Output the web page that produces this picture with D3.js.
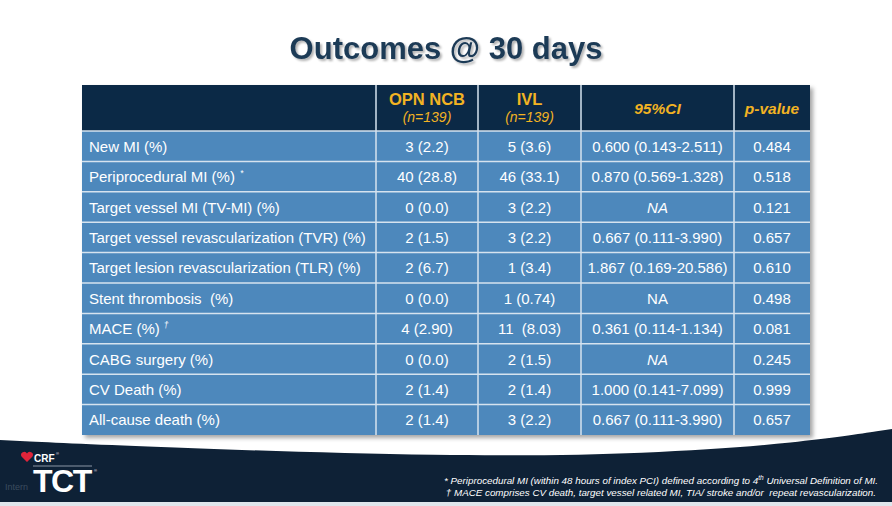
<!DOCTYPE html>
<html>
<head>
<meta charset="utf-8">
<script src="https://cdn.jsdelivr.net/npm/d3@7"></script>
<style>
  html, body { margin: 0; padding: 0; background: #ffffff; }
  svg { display: block; font-family: "Liberation Sans", Arial, sans-serif; }
</style>
</head>
<body>
<div id="chart"></div>
<script>
// Table content
const outcomes = [
    'New MI (%)',
    'Periprocedural MI (%)',
    'Target vessel MI (TV-MI) (%)',
    'Target vessel revascularization (TVR) (%)',
    'Target lesion revascularization (TLR) (%)',
    'Stent thrombosis  (%)',
    'MACE (%)',
    'CABG surgery (%)',
    'CV Death (%)',
    'All-cause death (%)'
];
const outcomeMarks = ['', '*', '', '', '', '', '\u2020', '', '', ''];
const opnNcb = ['3 (2.2)', '40 (28.8)', '0 (0.0)', '2 (1.5)', '2 (6.7)', '0 (0.0)', '4 (2.90)', '0 (0.0)', '2 (1.4)', '2 (1.4)'];
const ivl = ['5 (3.6)', '46 (33.1)', '3 (2.2)', '3 (2.2)', '1 (3.4)', '1 (0.74)', '11  (8.03)', '2 (1.5)', '2 (1.4)', '3 (2.2)'];
const ci95 = ['0.600 (0.143-2.511)', '0.870 (0.569-1.328)', 'NA', '0.667 (0.111-3.990)', '1.867 (0.169-20.586)', 'NA', '0.361 (0.114-1.134)', 'NA', '1.000 (0.141-7.099)', '0.667 (0.111-3.990)'];
const pValues = ['0.484', '0.518', '0.121', '0.657', '0.610', '0.498', '0.081', '0.245', '0.999', '0.657'];

const headers = [
    { key: 'outcome', title: '', sub: '' },
    { key: 'opn', title: 'OPN NCB', sub: '(n=139)' },
    { key: 'ivl', title: 'IVL', sub: '(n=139)' },
    { key: 'ci', title: '95%CI', sub: '' },
    { key: 'p', title: 'p-value', sub: '' }
];
const footnotes = [
    '* Periprocedural MI (within 48 hours of index PCI) defined according to 4',
    '\u2020 MACE comprises CV death, target vessel related MI, TIA/ stroke and/or  repeat revascularization.'
];

const W = 892, H = 506;
const table = { left: 82, right: 810, top: 85, headerBottom: 131, bottom: 435 };
const colWidths = [294, 102, 103, 153, 76];

const svg = d3.select('#chart').append('svg')
    .attr('width', W)
    .attr('height', H);

const defs = svg.append('defs');
const shadow = defs.append('filter').attr('id', 'shadow')
    .attr('x', '-5%').attr('y', '-5%').attr('width', '110%').attr('height', '115%');
shadow.append('feDropShadow')
    .attr('dx', 3).attr('dy', 3).attr('stdDeviation', 2)
    .attr('flood-color', '#000').attr('flood-opacity', 0.35);
const titleShadow = defs.append('filter').attr('id', 'titleShadow');
titleShadow.append('feDropShadow')
    .attr('dx', 2).attr('dy', 2).attr('stdDeviation', 1.2)
    .attr('flood-color', '#000').attr('flood-opacity', 0.3);

// Title
svg.append('text')
    .attr('x', 446)
    .attr('y', 59)
    .attr('text-anchor', 'middle')
    .attr('filter', 'url(#titleShadow)')
    .style('font-size', '31px')
    .style('font-weight', 'bold')
    .style('fill', '#1e3a56')
    .text('Outcomes @ 30 days');

// Bottom band
const bandTop = d3.line().curve(d3.curveBasis)([[0, 440], [150, 447], [450, 457], [650, 454], [800, 443], [892, 429]]);
svg.append('path')
    .attr('d', bandTop + `L${W},502L0,502Z`)
    .attr('fill', '#0e2136');
svg.append('rect')
    .attr('x', 0).attr('y', 502).attr('width', W).attr('height', 4)
    .attr('fill', '#dfe6ec');

// Scales
const colEdges = d3.cumsum([0, ...colWidths]);
const xScale = d3.scaleLinear()
    .domain([0, d3.sum(colWidths)])
    .range([table.left, table.right]);
const yScale = d3.scaleBand()
    .domain(d3.range(outcomes.length))
    .range([table.headerBottom, table.bottom]);

const colX = i => xScale(colEdges[i]);
const colMid = i => (colX(i) + colX(i + 1)) / 2;

const g = svg.append('g');

// Table background with shadow
g.append('rect')
    .attr('x', table.left).attr('y', table.top)
    .attr('width', table.right - table.left)
    .attr('height', table.bottom - table.top)
    .attr('fill', '#4e88bc')
    .attr('filter', 'url(#shadow)');

g.append('rect')
    .attr('x', table.left).attr('y', table.top)
    .attr('width', table.right - table.left)
    .attr('height', table.headerBottom - table.top)
    .attr('fill', '#0b2946');

// Grid lines
g.selectAll('.hline')
    .data(d3.range(1, outcomes.length))
    .enter().append('line')
    .attr('class', 'hline')
    .attr('x1', table.left).attr('x2', table.right)
    .attr('y1', d => yScale(d))
    .attr('y2', d => yScale(d))
    .attr('stroke', '#d6e3ef')
    .attr('stroke-width', 1.5);
g.append('line')
    .attr('x1', table.left).attr('x2', table.right)
    .attr('y1', table.headerBottom).attr('y2', table.headerBottom)
    .attr('stroke', '#d6e3ef')
    .attr('stroke-width', 1.5);

g.selectAll('.vline')
    .data(d3.range(1, colWidths.length))
    .enter().append('line')
    .attr('class', 'vline')
    .attr('x1', d => colX(d)).attr('x2', d => colX(d))
    .attr('y1', table.top).attr('y2', table.bottom)
    .attr('stroke', '#d6e3ef')
    .attr('stroke-width', 1.5);

// Header text
const yellow = '#f2b323';
headers.forEach((h, i) => {
    if (!h.title) return;
    const cx = colMid(i);
    const italic = !h.sub;
    g.append('text')
        .attr('x', cx)
        .attr('y', h.sub ? 105 : 114)
        .attr('text-anchor', 'middle')
        .style('font-size', italic ? '15.5px' : '16.5px')
        .style('font-weight', 'bold')
        .style('font-style', italic ? 'italic' : 'normal')
        .style('fill', yellow)
        .text(h.title);
    if (h.sub) {
        g.append('text')
            .attr('x', cx)
            .attr('y', 122)
            .attr('text-anchor', 'middle')
            .style('font-size', '14px')
            .style('font-style', 'italic')
            .style('fill', yellow)
            .text(h.sub);
    }
});

// Body rows
const italicNA = new Set([2, 7]);
const rows = g.selectAll('.row')
    .data(outcomes.map((o, i) => ({ i, o, mark: outcomeMarks[i], cells: [opnNcb[i], ivl[i], ci95[i], pValues[i]] })))
    .enter().append('g')
    .attr('class', 'row')
    .attr('transform', d => `translate(0,${yScale(d.i) + yScale.bandwidth() / 2 + 5.5})`);

const label = rows.append('text')
    .attr('x', table.left + 7)
    .style('font-size', '15px')
    .style('fill', '#ffffff')
    .style('white-space', 'pre')
    .text(d => d.o);
label.filter(d => d.mark)
    .append('tspan')
    .attr('dx', d => d.mark === '*' ? 5 : 4)
    .attr('dy', -6)
    .style('font-size', '8.5px')
    .style('font-style', 'italic')
    .text(d => d.mark);

rows.each(function(d) {
    const row = d3.select(this);
    d.cells.forEach((c, j) => {
        row.append('text')
            .attr('x', colMid(j + 1))
            .attr('text-anchor', 'middle')
            .style('font-size', '15px')
            .style('font-style', (c === 'NA' && italicNA.has(d.i)) ? 'italic' : 'normal')
            .style('fill', '#ffffff')
            .style('white-space', 'pre')
            .text(c);
    });
});

// Footnotes
const foot = svg.append('g')
    .style('font-size', '9.8px')
    .style('font-style', 'italic')
    .style('fill', '#ffffff');
const f1 = foot.append('text')
    .attr('x', 878).attr('y', 484)
    .attr('text-anchor', 'end');
f1.append('tspan').text(footnotes[0]);
f1.append('tspan').attr('dy', -4).style('font-size', '6.5px').text('th');
f1.append('tspan').attr('dy', 4).text(' Universal Definition of MI.');
foot.append('text')
    .attr('x', 876).attr('y', 496)
    .attr('text-anchor', 'end')
    .style('white-space', 'pre')
    .text(footnotes[1]);

// Logo
const logo = svg.append('g');
logo.append('path')
    .attr('d', 'M27,462 L21.5,456.5 A3,3 0 0 1 27,453.5 A3,3 0 0 1 32.5,456.5 Z')
    .attr('fill', '#e0243a');
logo.append('text')
    .attr('x', 34).attr('y', 461.5)
    .style('font-size', '10px')
    .style('font-weight', 'bold')
    .style('fill', '#ffffff')
    .text('CRF');
logo.append('text')
    .attr('x', 56).attr('y', 455)
    .style('font-size', '4px')
    .style('fill', '#ffffff')
    .text('\u00ae');
logo.append('line')
    .attr('x1', 33).attr('x2', 92)
    .attr('y1', 466).attr('y2', 466)
    .attr('stroke', '#8a96a4').attr('stroke-width', 1);
logo.append('text')
    .attr('x', 5).attr('y', 490)
    .style('font-size', '9px')
    .style('fill', '#3b4c5e')
    .text('Intern');
logo.append('text')
    .attr('x', 33).attr('y', 492)
    .style('font-size', '32px')
    .style('font-weight', 'bold')
    .style('fill', '#ffffff')
    .style('letter-spacing', '-1.5px')
    .text('TCT');
logo.append('text')
    .attr('x', 94).attr('y', 472)
    .style('font-size', '4px')
    .style('fill', '#ffffff')
    .text('\u00ae');
</script>
</body>
</html>
